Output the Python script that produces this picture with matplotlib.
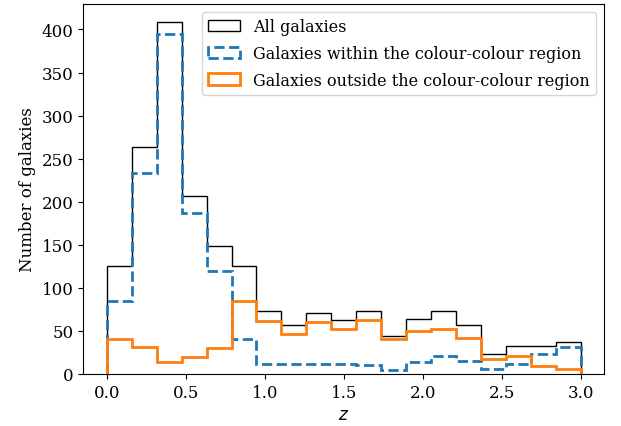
"""
Redshift distribution of the galaxy sample, split by colour-colour selection.
"""

import numpy as np
import matplotlib.pyplot as plt

plt.rcParams['font.family'] = 'DejaVu Serif'
plt.rcParams['font.size'] = 12

# 19 equal-width redshift bins between z = 0 and z = 3
bin_edges = np.linspace(0.0, 3.0, 20)

n_all = [125, 264, 409, 207, 149, 125, 73, 57, 71, 63,
         73, 44, 64, 73, 57, 23, 32, 32, 37]
n_inside = [85, 233, 395, 187, 119, 40, 11, 11, 11, 11,
            10, 4, 14, 21, 15, 6, 11, 23, 31]
n_outside = [40, 31, 14, 20, 30, 85, 62, 46, 60, 52,
             63, 40, 50, 52, 42, 17, 21, 9, 6]

centres = 0.5 * (bin_edges[:-1] + bin_edges[1:])

fig, ax = plt.subplots(figsize=(6.21, 4.27), dpi=100)
fig.subplots_adjust(left=0.134, right=0.973, bottom=0.122, top=0.988)

ax.hist(centres, bins=bin_edges, weights=n_all, histtype='step',
        color='black', linewidth=1.0, label='All galaxies')
ax.hist(centres, bins=bin_edges, weights=n_inside, histtype='step',
        color='C0', linewidth=2.0, linestyle='--',
        label='Galaxies within the colour-colour region')
ax.hist(centres, bins=bin_edges, weights=n_outside, histtype='step',
        color='C1', linewidth=2.0,
        label='Galaxies outside the colour-colour region')

ax.set_xlabel('$z$')
ax.set_ylabel('Number of galaxies')
ax.set_xticks(np.arange(0.0, 3.01, 0.5))
ax.set_yticks(np.arange(0, 401, 50))
ax.legend(loc='upper right', fontsize=11.5, labelspacing=0.6)

fig.savefig('out.png', dpi=100)
